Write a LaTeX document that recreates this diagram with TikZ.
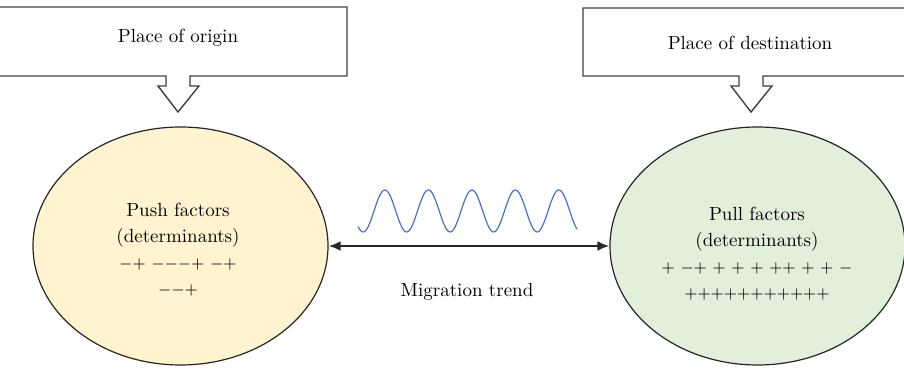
\documentclass[tikz,border=0pt]{standalone}
\usepackage{amsmath}
\usepackage{tikz}
\usepackage{color}
\usetikzlibrary{shapes.geometric,arrows.meta}

\definecolor{pushfill}{RGB}{255,243,208}
\definecolor{pullfill}{RGB}{226,239,218}
\definecolor{wavecol}{RGB}{68,114,196}

\newcommand{\pls}{\ensuremath{{+}}}
\newcommand{\mns}{\ensuremath{{-}}}
\newcommand{\sgn}{\fontsize{8pt}{13pt}\selectfont}

\tikzset{
  callout/.style={draw=black!75, line width=0.7pt, fill=white},
  factor/.style={ellipse, draw=black!85, line width=0.6pt, inner sep=0pt,
    minimum width=147.5pt, minimum height=119pt},
  factxt/.style={align=center, font=\fontsize{9.5pt}{13pt}\selectfont},
  lbl/.style={font=\fontsize{9.5pt}{11pt}\selectfont}
}

\begin{document}
\begin{tikzpicture}[x=0.5pt,y=-0.5pt]
\useasboundingbox (0,0) rectangle (904,383);
\begin{scope}
\clip (0,0) rectangle (904,383);
% call-out boxes
\draw[callout] (-10,7) -- (347,7) -- (347,76) -- (190,76) -- (190,86) -- (199,86)
  -- (178,112) -- (158,86) -- (166,86) -- (166,76) -- (-10,76) -- cycle;
\draw[callout] (583,8) -- (920,8) -- (920,76) -- (763,76) -- (763,86) -- (772,86)
  -- (751,112) -- (731,86) -- (739,86) -- (739,76) -- (583,76) -- cycle;
\end{scope}
\node[lbl] (origin) at (178,38) {Place of origin};
\node[lbl] (dest) at (750,43) {Place of destination};

% the two ellipses
\node[factor, fill=pushfill] (push) at (180.5,246) {};
\node[factor, fill=pullfill] (pull) at (757.5,246) {};
\node[factxt] (pushtxt) at (178,250) {Push factors\\(determinants)\\
  {\sgn\mns\pls{} \mns\mns\mns\pls{} \mns\pls}\\{\sgn\mns\mns\pls}};
\node[factxt] (pulltxt) at (757,254) {Pull factors\\(determinants)\\
  {\sgn\pls{} \mns\pls{} \pls{} \pls{} \pls{} \pls\pls{} \pls{} \pls{} \mns}\\
  {\sgn\pls\pls\pls\pls\pls\pls\pls\pls\pls\pls\pls}};

\draw[{Latex[length=6pt,width=5pt]}-{Latex[length=6pt,width=5pt]}, line width=1.4pt, black!85]
  (push.east) -- (pull.west);
\node[lbl] (trend) at (467,292) {Migration trend};

% wave
\draw[wavecol, line width=0.6pt] plot[domain=358:577, samples=160]
  (\x, {211-21*sin(8.2759*(\x-374))});
\end{tikzpicture}
\end{document}
